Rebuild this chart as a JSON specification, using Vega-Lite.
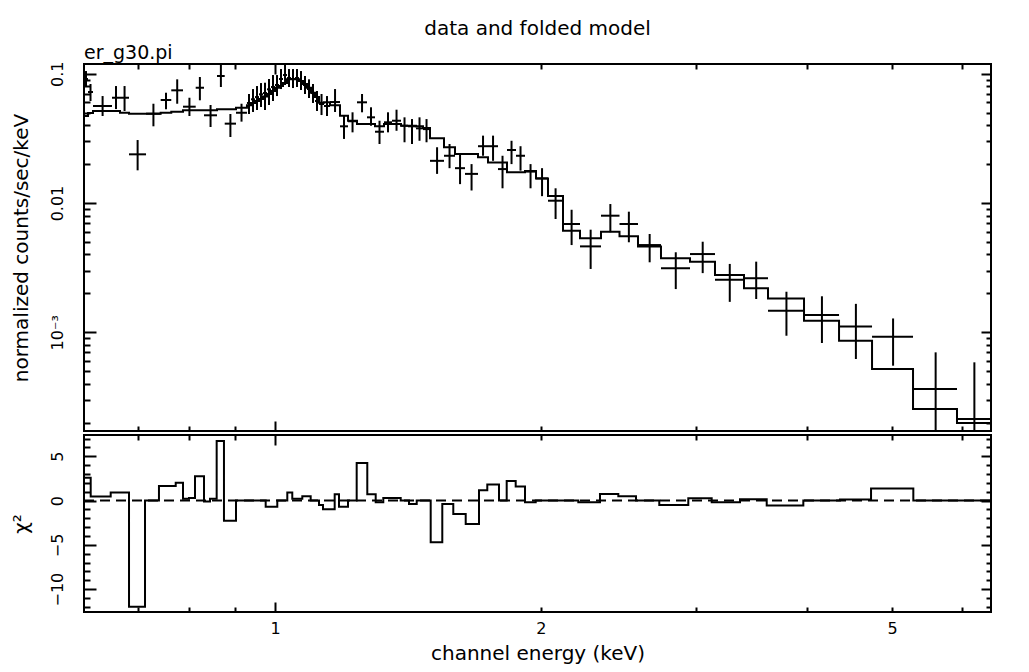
{
  "$schema": "https://vega.github.io/schema/vega-lite/v6.json",
  "background": "white",
  "padding": {"left": 9, "top": 18, "right": 5, "bottom": 5},
  "title": {"text": "data and folded model", "anchor": "middle", "frame": "group", "font": "DejaVu Sans", "fontSize": 20, "fontWeight": "normal", "color": "black", "offset": 4},
  "spacing": 0,
  "datasets": {
    "bins": [
      {"lo": 0.6077, "hi": 0.6141, "e": 0.6109, "y": 0.0910, "ylo": 0.0789, "yhi": 0.1049},
      {"lo": 0.6141, "hi": 0.6221, "e": 0.6181, "y": 0.0722, "ylo": 0.0615, "yhi": 0.0833},
      {"lo": 0.6221, "hi": 0.6537, "e": 0.6379, "y": 0.0563, "ylo": 0.0471, "yhi": 0.0672},
      {"lo": 0.6537, "hi": 0.6675, "e": 0.6606, "y": 0.0652, "ylo": 0.0533, "yhi": 0.0803},
      {"lo": 0.6675, "hi": 0.6834, "e": 0.6755, "y": 0.0652, "ylo": 0.0515, "yhi": 0.0803},
      {"lo": 0.6834, "hi": 0.7144, "e": 0.6989, "y": 0.0238, "ylo": 0.0179, "yhi": 0.0307},
      {"lo": 0.7144, "hi": 0.7422, "e": 0.7283, "y": 0.0491, "ylo": 0.0392, "yhi": 0.0586},
      {"lo": 0.7422, "hi": 0.7630, "e": 0.7526, "y": 0.0626, "ylo": 0.0531, "yhi": 0.0713},
      {"lo": 0.7630, "hi": 0.7867, "e": 0.7749, "y": 0.0744, "ylo": 0.0586, "yhi": 0.0905},
      {"lo": 0.7867, "hi": 0.8132, "e": 0.8000, "y": 0.0556, "ylo": 0.0471, "yhi": 0.0652},
      {"lo": 0.8132, "hi": 0.8310, "e": 0.8221, "y": 0.0779, "ylo": 0.0623, "yhi": 0.0943},
      {"lo": 0.8310, "hi": 0.8596, "e": 0.8453, "y": 0.0477, "ylo": 0.0387, "yhi": 0.0573},
      {"lo": 0.8596, "hi": 0.8771, "e": 0.8684, "y": 0.0960, "ylo": 0.0789, "yhi": 0.1168},
      {"lo": 0.8771, "hi": 0.9033, "e": 0.8902, "y": 0.0411, "ylo": 0.0324, "yhi": 0.0488},
      {"lo": 0.9033, "hi": 0.9295, "e": 0.9164, "y": 0.0499, "ylo": 0.0426, "yhi": 0.0586},
      {"lo": 0.9295, "hi": 0.9393, "e": 0.9344, "y": 0.0594, "ylo": 0.0488, "yhi": 0.0697},
      {"lo": 0.9393, "hi": 0.9492, "e": 0.9443, "y": 0.0634, "ylo": 0.0506, "yhi": 0.0761},
      {"lo": 0.9492, "hi": 0.9591, "e": 0.9542, "y": 0.0660, "ylo": 0.0524, "yhi": 0.0803},
      {"lo": 0.9591, "hi": 0.9692, "e": 0.9642, "y": 0.0693, "ylo": 0.0553, "yhi": 0.0847},
      {"lo": 0.9692, "hi": 0.9794, "e": 0.9743, "y": 0.0709, "ylo": 0.0524, "yhi": 0.0852},
      {"lo": 0.9794, "hi": 0.9896, "e": 0.9845, "y": 0.0757, "ylo": 0.0573, "yhi": 0.0910},
      {"lo": 0.9896, "hi": 1.0000, "e": 0.9948, "y": 0.0789, "ylo": 0.0615, "yhi": 0.0977},
      {"lo": 1.0000, "hi": 1.0105, "e": 1.0053, "y": 0.0818, "ylo": 0.0672, "yhi": 0.0977},
      {"lo": 1.0105, "hi": 1.0211, "e": 1.0158, "y": 0.0910, "ylo": 0.0761, "yhi": 0.1087},
      {"lo": 1.0211, "hi": 1.0318, "e": 1.0265, "y": 0.0977, "ylo": 0.0818, "yhi": 0.1168},
      {"lo": 1.0318, "hi": 1.0426, "e": 1.0372, "y": 0.0926, "ylo": 0.0789, "yhi": 0.1087},
      {"lo": 1.0426, "hi": 1.0535, "e": 1.0481, "y": 0.0910, "ylo": 0.0775, "yhi": 0.1087},
      {"lo": 1.0535, "hi": 1.0646, "e": 1.0591, "y": 0.0926, "ylo": 0.0789, "yhi": 0.1087},
      {"lo": 1.0646, "hi": 1.0758, "e": 1.0702, "y": 0.0878, "ylo": 0.0748, "yhi": 0.1049},
      {"lo": 1.0758, "hi": 1.0870, "e": 1.0814, "y": 0.0818, "ylo": 0.0697, "yhi": 0.0960},
      {"lo": 1.0870, "hi": 1.0984, "e": 1.0927, "y": 0.0761, "ylo": 0.0649, "yhi": 0.0905},
      {"lo": 1.0984, "hi": 1.1099, "e": 1.1042, "y": 0.0709, "ylo": 0.0594, "yhi": 0.0833},
      {"lo": 1.1099, "hi": 1.1216, "e": 1.1158, "y": 0.0615, "ylo": 0.0515, "yhi": 0.0735},
      {"lo": 1.1216, "hi": 1.1363, "e": 1.1290, "y": 0.0583, "ylo": 0.0479, "yhi": 0.0697},
      {"lo": 1.1363, "hi": 1.1542, "e": 1.1453, "y": 0.0563, "ylo": 0.0471, "yhi": 0.0672},
      {"lo": 1.1542, "hi": 1.1847, "e": 1.1695, "y": 0.0604, "ylo": 0.0506, "yhi": 0.0761},
      {"lo": 1.1847, "hi": 1.2097, "e": 1.1972, "y": 0.0392, "ylo": 0.0313, "yhi": 0.0473},
      {"lo": 1.2097, "hi": 1.2384, "e": 1.2241, "y": 0.0429, "ylo": 0.0352, "yhi": 0.0503},
      {"lo": 1.2384, "hi": 1.2711, "e": 1.2548, "y": 0.0601, "ylo": 0.0503, "yhi": 0.0697},
      {"lo": 1.2711, "hi": 1.2979, "e": 1.2845, "y": 0.0460, "ylo": 0.0396, "yhi": 0.0550},
      {"lo": 1.2979, "hi": 1.3287, "e": 1.3133, "y": 0.0356, "ylo": 0.0286, "yhi": 0.0433},
      {"lo": 1.3287, "hi": 1.3567, "e": 1.3427, "y": 0.0421, "ylo": 0.0352, "yhi": 0.0503},
      {"lo": 1.3567, "hi": 1.3890, "e": 1.3729, "y": 0.0433, "ylo": 0.0362, "yhi": 0.0527},
      {"lo": 1.3890, "hi": 1.4146, "e": 1.4018, "y": 0.0396, "ylo": 0.0295, "yhi": 0.0460},
      {"lo": 1.4146, "hi": 1.4444, "e": 1.4295, "y": 0.0392, "ylo": 0.0286, "yhi": 0.0446},
      {"lo": 1.4444, "hi": 1.4710, "e": 1.4577, "y": 0.0378, "ylo": 0.0303, "yhi": 0.0460},
      {"lo": 1.4710, "hi": 1.4981, "e": 1.4846, "y": 0.0373, "ylo": 0.0295, "yhi": 0.0446},
      {"lo": 1.4981, "hi": 1.5538, "e": 1.5260, "y": 0.0212, "ylo": 0.0168, "yhi": 0.0270},
      {"lo": 1.5538, "hi": 1.5990, "e": 1.5764, "y": 0.0232, "ylo": 0.0186, "yhi": 0.0286},
      {"lo": 1.5990, "hi": 1.6413, "e": 1.6202, "y": 0.0186, "ylo": 0.0140, "yhi": 0.0239},
      {"lo": 1.6413, "hi": 1.6979, "e": 1.6696, "y": 0.0168, "ylo": 0.0125, "yhi": 0.0200},
      {"lo": 1.6979, "hi": 1.7427, "e": 1.7203, "y": 0.0275, "ylo": 0.0232, "yhi": 0.0332},
      {"lo": 1.7427, "hi": 1.7888, "e": 1.7658, "y": 0.0275, "ylo": 0.0212, "yhi": 0.0332},
      {"lo": 1.7888, "hi": 1.8312, "e": 1.8100, "y": 0.0183, "ylo": 0.0130, "yhi": 0.0232},
      {"lo": 1.8312, "hi": 1.8747, "e": 1.8530, "y": 0.0257, "ylo": 0.0200, "yhi": 0.0303},
      {"lo": 1.8747, "hi": 1.9193, "e": 1.8970, "y": 0.0232, "ylo": 0.0178, "yhi": 0.0275},
      {"lo": 1.9193, "hi": 1.9751, "e": 1.9472, "y": 0.0175, "ylo": 0.0130, "yhi": 0.0200},
      {"lo": 1.9751, "hi": 2.0379, "e": 2.0065, "y": 0.0155, "ylo": 0.0113, "yhi": 0.0186},
      {"lo": 2.0379, "hi": 2.1192, "e": 2.0786, "y": 0.01042, "ylo": 0.00752, "yhi": 0.0130},
      {"lo": 2.1192, "hi": 2.2153, "e": 2.1673, "y": 0.00688, "ylo": 0.00473, "yhi": 0.00887},
      {"lo": 2.2153, "hi": 2.3398, "e": 2.2776, "y": 0.00462, "ylo": 0.00309, "yhi": 0.00622},
      {"lo": 2.3398, "hi": 2.4556, "e": 2.3977, "y": 0.00798, "ylo": 0.00594, "yhi": 0.00982},
      {"lo": 2.4556, "hi": 2.5769, "e": 2.5163, "y": 0.00688, "ylo": 0.00497, "yhi": 0.00857},
      {"lo": 2.5769, "hi": 2.7361, "e": 2.6565, "y": 0.00473, "ylo": 0.00348, "yhi": 0.00576},
      {"lo": 2.7361, "hi": 2.9512, "e": 2.8437, "y": 0.00313, "ylo": 0.00216, "yhi": 0.00416},
      {"lo": 2.9512, "hi": 3.1499, "e": 3.0506, "y": 0.00403, "ylo": 0.00287, "yhi": 0.00502},
      {"lo": 3.1499, "hi": 3.3975, "e": 3.2737, "y": 0.00255, "ylo": 0.00172, "yhi": 0.00338},
      {"lo": 3.3975, "hi": 3.6170, "e": 3.5073, "y": 0.00262, "ylo": 0.00181, "yhi": 0.00352},
      {"lo": 3.6170, "hi": 3.9731, "e": 3.7951, "y": 0.00147, "ylo": 0.000941, "yhi": 0.00206},
      {"lo": 3.9731, "hi": 4.3530, "e": 4.1631, "y": 0.00136, "ylo": 0.000827, "yhi": 0.00190},
      {"lo": 4.3530, "hi": 4.7442, "e": 4.5486, "y": 0.00111, "ylo": 0.000622, "yhi": 0.00166},
      {"lo": 4.7442, "hi": 5.2794, "e": 5.0118, "y": 0.000925, "ylo": 0.000552, "yhi": 0.00128},
      {"lo": 5.2794, "hi": 5.9208, "e": 5.6001, "y": 0.000364, "ylo": 0.0001, "yhi": 0.000700},
      {"lo": 5.9208, "hi": 6.4698, "e": 6.1953, "y": 0.000214, "ylo": 0.0001, "yhi": 0.000586}
    ],
    "model": [
      {"E": 0.6077, "m": 0.0471}, {"E": 0.6141, "m": 0.0497}, {"E": 0.6221, "m": 0.0515},
      {"E": 0.6537, "m": 0.0515}, {"E": 0.6675, "m": 0.0499}, {"E": 0.6834, "m": 0.0491},
      {"E": 0.7144, "m": 0.0491}, {"E": 0.7422, "m": 0.0499}, {"E": 0.7630, "m": 0.0508},
      {"E": 0.7867, "m": 0.0521}, {"E": 0.8132, "m": 0.0521}, {"E": 0.8310, "m": 0.0521},
      {"E": 0.8596, "m": 0.0531}, {"E": 0.8771, "m": 0.0531}, {"E": 0.9033, "m": 0.0546},
      {"E": 0.9295, "m": 0.0570}, {"E": 0.9393, "m": 0.0594}, {"E": 0.9492, "m": 0.0615},
      {"E": 0.9591, "m": 0.0637}, {"E": 0.9692, "m": 0.0666}, {"E": 0.9794, "m": 0.0697},
      {"E": 0.9896, "m": 0.0735}, {"E": 1.0000, "m": 0.0779}, {"E": 1.0105, "m": 0.0803},
      {"E": 1.0211, "m": 0.0847}, {"E": 1.0318, "m": 0.0905}, {"E": 1.0426, "m": 0.0905},
      {"E": 1.0535, "m": 0.0905}, {"E": 1.0646, "m": 0.0878}, {"E": 1.0758, "m": 0.0833},
      {"E": 1.0870, "m": 0.0779}, {"E": 1.0984, "m": 0.0713}, {"E": 1.1099, "m": 0.0660},
      {"E": 1.1216, "m": 0.0597}, {"E": 1.1363, "m": 0.0601}, {"E": 1.1542, "m": 0.0570},
      {"E": 1.1847, "m": 0.0473}, {"E": 1.2097, "m": 0.0433}, {"E": 1.2384, "m": 0.0408},
      {"E": 1.2711, "m": 0.0408}, {"E": 1.2979, "m": 0.0392}, {"E": 1.3287, "m": 0.0408},
      {"E": 1.3567, "m": 0.0408}, {"E": 1.3890, "m": 0.0396}, {"E": 1.4146, "m": 0.0396},
      {"E": 1.4444, "m": 0.0392}, {"E": 1.4710, "m": 0.0380}, {"E": 1.4981, "m": 0.0317},
      {"E": 1.5538, "m": 0.0270}, {"E": 1.5990, "m": 0.0239}, {"E": 1.6413, "m": 0.0239},
      {"E": 1.6979, "m": 0.0226}, {"E": 1.7427, "m": 0.0206}, {"E": 1.7888, "m": 0.0206},
      {"E": 1.8312, "m": 0.0173}, {"E": 1.8747, "m": 0.0173}, {"E": 1.9193, "m": 0.0177},
      {"E": 1.9751, "m": 0.0155}, {"E": 2.0379, "m": 0.01133}, {"E": 2.1192, "m": 0.00611},
      {"E": 2.2153, "m": 0.00533}, {"E": 2.3398, "m": 0.00600}, {"E": 2.4556, "m": 0.00553},
      {"E": 2.5769, "m": 0.00462}, {"E": 2.7361, "m": 0.00374}, {"E": 2.9512, "m": 0.00352},
      {"E": 3.1499, "m": 0.00277}, {"E": 3.3975, "m": 0.00219}, {"E": 3.6170, "m": 0.00183},
      {"E": 3.9731, "m": 0.00123}, {"E": 4.3530, "m": 0.000861}, {"E": 4.7442, "m": 0.000520},
      {"E": 5.2794, "m": 0.000255}, {"E": 5.9208, "m": 0.000199}, {"E": 6.4698, "m": 0.000199}
    ],
    "resid": [
      {"E": 0.6077, "chi": 2.57}, {"E": 0.6184, "chi": 0.45}, {"E": 0.6515, "chi": 0.9},
      {"E": 0.6834, "chi": -12.0}, {"E": 0.7125, "chi": 0}, {"E": 0.7389, "chi": 1.63},
      {"E": 0.7719, "chi": 2.0}, {"E": 0.7867, "chi": 0.2}, {"E": 0.7991, "chi": 0.3},
      {"E": 0.8117, "chi": 2.75}, {"E": 0.8310, "chi": -0.1}, {"E": 0.8441, "chi": 0.2},
      {"E": 0.8589, "chi": 6.73}, {"E": 0.8754, "chi": -2.27}, {"E": 0.9033, "chi": 0},
      {"E": 0.9760, "chi": -0.7}, {"E": 1.0060, "chi": 0}, {"E": 1.0326, "chi": 0.9},
      {"E": 1.0461, "chi": 0.2}, {"E": 1.0738, "chi": 0.5}, {"E": 1.0975, "chi": 0},
      {"E": 1.1216, "chi": -0.5}, {"E": 1.1334, "chi": -0.97}, {"E": 1.1684, "chi": 0.7},
      {"E": 1.1816, "chi": -0.7}, {"E": 1.2097, "chi": 0}, {"E": 1.2374, "chi": 4.24},
      {"E": 1.2721, "chi": 0.7}, {"E": 1.3003, "chi": -0.2}, {"E": 1.3263, "chi": 0.3},
      {"E": 1.3879, "chi": 0}, {"E": 1.4183, "chi": -0.4}, {"E": 1.4471, "chi": 0},
      {"E": 1.5008, "chi": -4.7}, {"E": 1.5469, "chi": -0.4}, {"E": 1.5919, "chi": -1.53},
      {"E": 1.6443, "chi": -2.65}, {"E": 1.7023, "chi": 1.15}, {"E": 1.7395, "chi": 1.82},
      {"E": 1.7934, "chi": 0}, {"E": 1.8298, "chi": 2.2}, {"E": 1.8732, "chi": 1.6},
      {"E": 1.9193, "chi": -0.2}, {"E": 1.9736, "chi": 0}, {"E": 2.2055, "chi": -0.2},
      {"E": 2.3337, "chi": 0.74}, {"E": 2.4480, "chi": 0.48}, {"E": 2.5635, "chi": 0},
      {"E": 2.7240, "chi": -0.5}, {"E": 2.9381, "chi": 0.26}, {"E": 3.1229, "chi": -0.2},
      {"E": 3.3623, "chi": 0.15}, {"E": 3.6048, "chi": -0.55}, {"E": 3.9659, "chi": 0},
      {"E": 4.3643, "chi": 0.12}, {"E": 4.7319, "chi": 1.37}, {"E": 5.2835, "chi": 0},
      {"E": 6.4698, "chi": 0}
    ],
    "zero": [{"E": 0.6077, "chi": 0}, {"E": 6.4698, "chi": 0}]
  },
  "vconcat": [
    {
      "width": 907,
      "height": 367,
      "title": {"text": "er_g30.pi", "anchor": "start", "frame": "group", "font": "DejaVu Sans", "fontSize": 19, "fontWeight": "normal", "color": "black", "offset": -2},
      "resolve": {"axis": {"x": "independent", "y": "independent"}},
      "layer": [
        {
          "data": {"name": "bins"},
          "mark": {"type": "rule", "color": "black", "strokeWidth": 2, "clip": true},
          "encoding": {
            "x": {"field": "e", "type": "quantitative",
              "scale": {"type": "log", "domain": [0.6077, 6.4698], "nice": false},
              "axis": {"orient": "bottom", "title": null, "labels": false, "values": [0.7, 0.8, 0.9, 1, 2, 3, 4, 5, 6],
                "tickSize": {"condition": {"test": "datum.value == 1", "value": -10}, "value": -5}}},
            "y": {"field": "ylo", "type": "quantitative",
              "scale": {"type": "log", "domain": [0.0001725, 0.1189], "nice": false},
              "axis": {"orient": "left", "title": "normalized counts/sec/keV", "titlePadding": 12,
                "values": [0.0002, 0.0003, 0.0004, 0.0005, 0.0006, 0.0007, 0.0008, 0.0009, 0.001, 0.002, 0.003, 0.004, 0.005, 0.006, 0.007, 0.008, 0.009, 0.01, 0.02, 0.03, 0.04, 0.05, 0.06, 0.07, 0.08, 0.09, 0.1],
                "tickSize": {"condition": {"test": "indexof([0.001, 0.01, 0.1], datum.value) >= 0", "value": -12}, "value": -6},
                "labelExpr": "datum.value == 0.1 ? '0.1' : datum.value == 0.01 ? '0.01' : datum.value == 0.001 ? '10⁻³' : ''",
                "labelAngle": -90, "labelAlign": "center", "labelBaseline": "bottom", "labelPadding": 31}},
            "y2": {"field": "yhi"}
          }
        },
        {
          "data": {"name": "bins"},
          "mark": {"type": "rule", "color": "black", "strokeWidth": 2, "clip": true},
          "encoding": {
            "x": {"field": "lo", "type": "quantitative",
              "scale": {"type": "log", "domain": [0.6077, 6.4698], "nice": false},
              "axis": {"orient": "top", "title": null, "labels": false, "values": [0.7, 0.8, 0.9, 1, 2, 3, 4, 5, 6],
                "tickSize": {"condition": {"test": "datum.value == 1", "value": -10}, "value": -5}}},
            "x2": {"field": "hi"},
            "y": {"field": "y", "type": "quantitative",
              "scale": {"type": "log", "domain": [0.0001725, 0.1189], "nice": false},
              "axis": {"orient": "right", "title": null, "labels": false,
                "values": [0.0002, 0.0003, 0.0004, 0.0005, 0.0006, 0.0007, 0.0008, 0.0009, 0.001, 0.002, 0.003, 0.004, 0.005, 0.006, 0.007, 0.008, 0.009, 0.01, 0.02, 0.03, 0.04, 0.05, 0.06, 0.07, 0.08, 0.09, 0.1],
                "tickSize": {"condition": {"test": "indexof([0.001, 0.01, 0.1], datum.value) >= 0", "value": -10}, "value": -5}}}
          }
        },
        {
          "data": {"name": "model"},
          "mark": {"type": "line", "interpolate": "step-after", "color": "black", "strokeWidth": 2, "clip": true},
          "encoding": {
            "x": {"field": "E", "type": "quantitative", "scale": {"type": "log", "domain": [0.6077, 6.4698], "nice": false}, "axis": null},
            "y": {"field": "m", "type": "quantitative", "scale": {"type": "log", "domain": [0.0001725, 0.1189], "nice": false}, "axis": null}
          }
        }
      ]
    },
    {
      "width": 907,
      "height": 177,
      "resolve": {"axis": {"x": "independent", "y": "independent"}},
      "layer": [
        {
          "data": {"name": "zero"},
          "mark": {"type": "line", "color": "black", "strokeWidth": 2, "strokeDash": [10, 6]},
          "encoding": {
            "x": {"field": "E", "type": "quantitative",
              "scale": {"type": "log", "domain": [0.6077, 6.4698], "nice": false},
              "axis": {"orient": "top", "title": null, "labels": false, "values": [0.7, 0.8, 0.9, 1, 2, 3, 4, 5, 6],
                "tickSize": {"condition": {"test": "datum.value == 1", "value": -10}, "value": -5}}},
            "y": {"field": "chi", "type": "quantitative",
              "scale": {"domain": [-12.58, 7.4], "nice": false, "zero": false},
              "axis": {"orient": "right", "title": null, "labels": false,
                "values": [-12, -11, -10, -9, -8, -7, -6, -5, -4, -3, -2, -1, 0, 1, 2, 3, 4, 5, 6, 7],
                "tickSize": {"condition": {"test": "datum.value % 5 == 0", "value": -10}, "value": -5}}}
          }
        },
        {
          "data": {"name": "resid"},
          "mark": {"type": "line", "interpolate": "step-after", "color": "black", "strokeWidth": 2},
          "encoding": {
            "x": {"field": "E", "type": "quantitative",
              "scale": {"type": "log", "domain": [0.6077, 6.4698], "nice": false},
              "axis": {"orient": "bottom", "title": "channel energy (keV)", "titlePadding": 7,
                "values": [0.7, 0.8, 0.9, 1, 2, 3, 4, 5, 6],
                "tickSize": {"condition": {"test": "datum.value == 1", "value": -10}, "value": -5},
                "labelExpr": "datum.value == 1 ? '1' : datum.value == 2 ? '2' : datum.value == 5 ? '5' : ''",
                "labelPadding": {"condition": {"test": "datum.value == 1", "value": 18}, "value": 13}}},
            "y": {"field": "chi", "type": "quantitative",
              "scale": {"domain": [-12.58, 7.4], "nice": false, "zero": false},
              "axis": {"orient": "left", "title": "χ²", "titlePadding": 12,
                "values": [-12, -11, -10, -9, -8, -7, -6, -5, -4, -3, -2, -1, 0, 1, 2, 3, 4, 5, 6, 7],
                "tickSize": {"condition": {"test": "datum.value % 5 == 0", "value": -12}, "value": -6},
                "labelExpr": "datum.value % 5 == 0 ? format(datum.value, 'd') : ''",
                "labelAngle": -90, "labelAlign": "center", "labelBaseline": "bottom", "labelPadding": 31}}
          }
        }
      ]
    }
  ],
  "config": {
    "font": "DejaVu Sans",
    "view": {"stroke": "black", "strokeWidth": 2},
    "axis": {
      "domain": false, "grid": false, "ticks": true, "tickColor": "black", "tickWidth": 2,
      "labelColor": "black", "labelFont": "DejaVu Sans", "labelFontSize": 16,
      "titleColor": "black", "titleFont": "DejaVu Sans", "titleFontSize": 20, "titleFontWeight": "normal",
      "labelOverlap": false, "labelFlush": false
    }
  }
}
